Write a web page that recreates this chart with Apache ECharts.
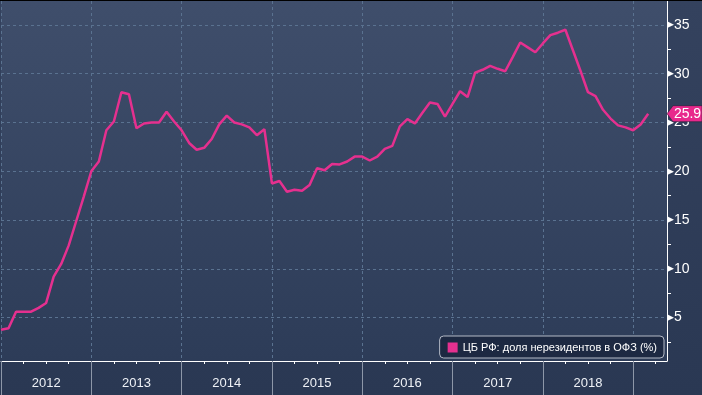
<!DOCTYPE html>
<html><head><meta charset="utf-8">
<script src="https://cdn.jsdelivr.net/npm/echarts@6/dist/echarts.min.js"></script>
<style>html,body{margin:0;padding:0;background:#000;overflow:hidden}#c{width:702px;height:394px;margin-top:1px}</style>
</head><body><div id="c"></div>
<script>
// Year labels (categories) and monthly values, Jan 2012 .. Mar 2019
const yearLabels = ['2012','2013','2014','2015','2016','2017','2018'];
const seriesName = 'ЦБ РФ: доля нерезидентов в ОФЗ (%)';
const values2012 = [3.75,3.9,5.6,5.6,5.6,6.0,6.5,9.2,10.5,12.4,14.9,17.4];
const values2013 = [20.0,21.0,24.2,25.1,28.1,27.9,24.4,24.9,25.0,25.0,26.1,25.1];
const values2014 = [24.2,22.9,22.2,22.4,23.3,24.8,25.7,25.0,24.8,24.5,23.7,24.3];
const values2015 = [18.75,19.0,17.9,18.1,18.0,18.6,20.3,20.1,20.75,20.7,21.0,21.5];
const values2016 = [21.5,21.1,21.5,22.3,22.6,24.6,25.35,24.9,26.0,27.05,26.9,25.6];
const values2017 = [26.9,28.2,27.6,30.1,30.4,30.8,30.5,30.25,31.7,33.2,32.7,32.2];
const values2018 = [33.1,33.95,34.2,34.5,32.4,30.3,28.1,27.7,26.3,25.4,24.7,24.5];
const values2019 = [24.2,24.8,25.9];
const yTickLabels = [5,10,15,20,25,30,35];

const values = [].concat(values2012,values2013,values2014,values2015,values2016,values2017,values2018,values2019);
const data = values.map((v,i)=>[i,v]);
const lastValue = values[values.length-1];
const xMax = 88.5, yMin = 0.55, yMax = 37.45;
const quarterTicks = []; for (let m=0;m<=87;m+=3) quarterTicks.push(m);
const yearStarts = yearLabels.map((y,i)=>i*12).concat([yearLabels.length*12]);
const yearMids = yearLabels.map((y,i)=>i*12+6);
const yMinor = yTickLabels.map(v=>v-2.5);

const grid = '#5a7290';
const chart = echarts.init(document.getElementById('c'));
chart.setOption({
  animation:false,
  backgroundColor:{type:'linear',x:0,y:0,x2:0,y2:1,colorStops:[{offset:0,color:'#34425e'},{offset:1,color:'#2a3853'}]},
  grid:{left:1,right:35,top:0,bottom:34,show:true,borderWidth:0,
    backgroundColor:{type:'linear',x:0,y:0,x2:0,y2:1,colorStops:[{offset:0,color:'#3f4e6b'},{offset:1,color:'#2d3c58'}]}},
  legend:{right:38,bottom:37,data:[seriesName],icon:'rect',itemWidth:10,itemHeight:10,itemGap:5,
    backgroundColor:'#1d2942',borderColor:'#b4bac6',borderWidth:1,borderRadius:4,padding:[6,7,5,8],
    textStyle:{color:'#ffffff',fontSize:11,fontFamily:'Liberation Sans'}},
  xAxis:[
    {type:'value',min:0,max:xMax,position:'bottom',
     axisLine:{show:true,onZero:false,lineStyle:{color:'#ffffff',width:1}},
     axisTick:{show:true,customValues:quarterTicks,length:3,lineStyle:{color:'#ffffff'}},
     axisLabel:{customValues:yearMids,formatter:v=>yearLabels[Math.round((v-6)/12)]||'',color:'#eef1f6',fontSize:13,fontFamily:'Liberation Sans',margin:16},
     splitLine:{show:false}},
    {type:'value',min:0,max:xMax,interval:12,position:'bottom',
     axisLine:{show:false,onZero:false},
     axisTick:{show:true,customValues:yearStarts,length:40,lineStyle:{color:'#8d97a8'}},
     axisLabel:{show:false},
     splitLine:{show:true,lineStyle:{color:grid,type:[3,3],width:1}}}
  ],
  yAxis:[
    {type:'value',position:'right',min:yMin,max:yMax,splitNumber:7,
     axisLine:{show:true,onZero:false,lineStyle:{color:'#ffffff',width:1}},
     axisTick:{show:true,customValues:yMinor,length:4,lineStyle:{color:'#ffffff'}},
     axisLabel:{customValues:yTickLabels,margin:0,formatter:v=>'{t|▶}{n|'+v+'}',
       rich:{t:{fontSize:9,color:'#ffffff',fontFamily:'DejaVu Sans'},n:{fontSize:14,color:'#ffffff',fontFamily:'Liberation Sans'}}},
     splitLine:{show:false}},
    {type:'value',position:'right',min:yMin,max:yMax,splitNumber:7,
     axisLine:{show:false,onZero:false},
     axisTick:{show:false,customValues:yTickLabels},
     axisLabel:{show:false},
     splitLine:{show:true,lineStyle:{color:grid,type:[3,3],width:1}}}
  ],
  series:[{
    name:seriesName,type:'line',data:data,xAxisIndex:0,yAxisIndex:0,showSymbol:false,symbol:'none',clip:false,
    lineStyle:{color:'#e5308f',width:2.5},itemStyle:{color:'#e5308f'},
    markPoint:{silent:true,symbol:'path://M0,8L6,0L35,0L35,16L6,16Z',symbolSize:[35,16],symbolOffset:[17.5,0],
      itemStyle:{color:'#e8288c',borderColor:'#1a1f30',borderWidth:0.5},
      label:{show:true,position:'inside',offset:[3,0],color:'#ffffff',fontSize:14,fontFamily:'Liberation Sans',formatter:String(lastValue)},
      data:[{coord:[xMax,lastValue]}]}
  }]
});
</script></body></html>
